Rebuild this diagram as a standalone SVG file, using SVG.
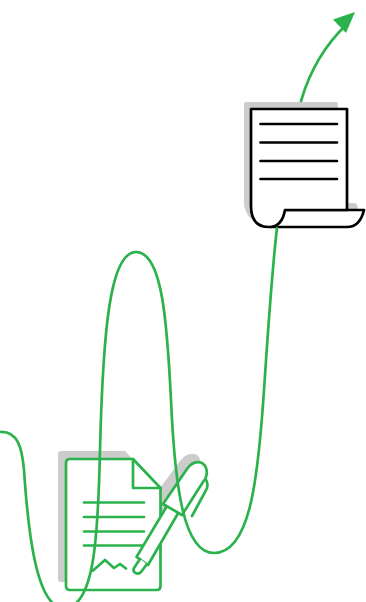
<svg xmlns="http://www.w3.org/2000/svg" width="366" height="602" viewBox="0 0 366 602">
<style>
.g{fill:none;stroke:#2bb24c;stroke-width:2.700;stroke-linecap:round;stroke-linejoin:round}
.gw{fill:#fff;stroke:#2bb24c;stroke-width:2.700;stroke-linecap:round;stroke-linejoin:round}
.k{fill:none;stroke:#000;stroke-width:2.700;stroke-linecap:round;stroke-linejoin:round}
.kw{fill:#fff;stroke:#000;stroke-width:2.700;stroke-linejoin:round}
.s{fill:#ccc}
</style>
<g id="document">
<path class="s" d="M61 451H125L140 467V582H61Q58 582 58 579V454Q58 451 61 451Z"/>
<path class="s" d="M160 488L180 461Q187 452 195 454Q203 458 199 467L160 530Z"/>
<path class="gw" d="M70 459H133L160.500 488V586Q160.500 590 157 590H70Q66 590 66 586V463Q66 459 70 459Z"/>
<path class="g" d="M133 459V488H160.500M84 502.500H144M84 517H144M84 531.500H144M84 545.500H144M93 570.500L105 560L114 568L120 564L126 568.500"/>
</g>
<g id="pen">
<path class="gw" d="M205 478Q210 485 205 492L192 516"/>
<path class="gw" d="M167 506L136.500 557L148 565L178.500 512.500"/>
<path class="gw" d="M163 504L187 469C193 460 203 460 206 468C208 473 206 479 203 482L182 515Z"/>
<path class="gw" d="M140 559L134 568C132 573 138 575 141 572L147 564"/>
</g>
<g id="scroll">
<path class="s" d="M246 102H336Q338 102 338 104V203H355Q358 204 358 210H262Q244 222 244 200V104Q244 102 246 102Z"/>
<path class="s" d="M244 198Q244 222 262 222L290 215V190H244Z"/>
<path class="kw" d="M285 210H364Q360 227 347 227H271Z"/>
<path class="kw" d="M251 109H347V210H285Q282 227 269 227Q251 227 251 206Z"/>
<path class="k" d="M260.500 124H337M260.500 142.500H337M260.500 161H337M260.500 179H337"/>
</g>
<g id="connectors">
<path class="g" d="M0 432C18 431 22 448 24 470C28 530 36 608 64 608C94 608 98 540 100 450C103 330 110 252 136 252C162 252 167 320 171 400C175 490 184 553 214 553C250 553 258 480 264 390C268 330 272 270 277 228"/>
<path class="g" d="M301 101C310 70 326 44 347 24"/>
<path d="M355 12L333 19.500L346 33Z" fill="#2bb24c"/>
</g>
</svg>
